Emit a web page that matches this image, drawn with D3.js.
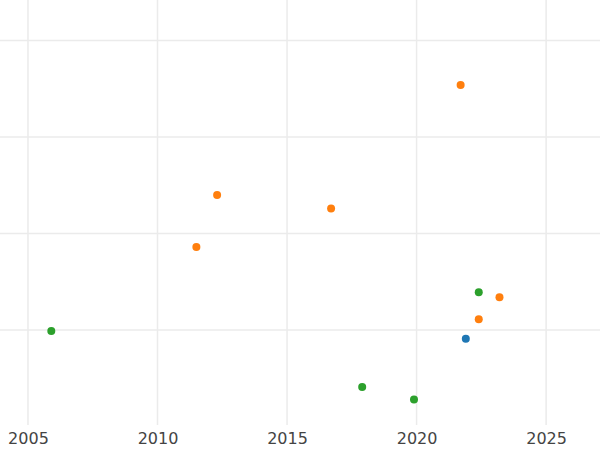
<!DOCTYPE html>
<html><head><meta charset="utf-8">
<script src="https://cdn.jsdelivr.net/npm/d3@7"></script>
<style>body{margin:0;background:#fff}</style>
</head><body>
<script>
// data
const years = [2005.9, 2011.5, 2012.3, 2016.7, 2021.7, 2022.4, 2023.2, 2022.4, 2021.9, 2017.9, 2019.9];
const values = [-0.01, 0.86, 1.4, 1.26, 2.54, 0.11, 0.34, 0.39, -0.09, -0.59, -0.72];
const groups = ["g", "o", "o", "o", "o", "o", "o", "g", "b", "g", "g"];
const xTicks = [2005, 2010, 2015, 2020, 2025];
const yTicks = [0, 1, 2, 3];

let width = 600, height = 450;
let plotBottom = 425;

let x = d3.scaleLinear().domain([2003.92, 2027.08]).range([0, width]);
let y = d3.scaleLinear().domain([-0.985, 3.42]).range([plotBottom, 0]);
let color = d3.scaleOrdinal().domain(["b", "o", "g"]).range(["#1f77b4", "#ff7f0e", "#2ca02c"]);

let svg = d3.select("body").append("svg")
    .attr("width", width).attr("height", height);

// grid
svg.append("g").selectAll("line").data(xTicks).join("line")
    .attr("x1", d => x(d)).attr("x2", d => x(d))
    .attr("y1", 0).attr("y2", plotBottom)
    .attr("stroke", "#ebebeb").attr("stroke-width", 1.5);
svg.append("g").selectAll("line").data(yTicks).join("line")
    .attr("x1", 0).attr("x2", width)
    .attr("y1", d => y(d)).attr("y2", d => y(d))
    .attr("stroke", "#ebebeb").attr("stroke-width", 1.5);

// x axis labels
let ax = svg.append("g")
    .attr("transform", "translate(0," + plotBottom + ")")
    .call(d3.axisBottom(x).tickValues(xTicks).tickFormat(d3.format("d")).tickSize(0).tickPadding(8));
ax.select(".domain").remove();
ax.selectAll("text").attr("font-family", "DejaVu Sans").attr("font-size", 16).attr("fill", "#444");

// points
svg.append("g").selectAll("circle").data(years).join("circle")
    .attr("cx", d => x(d))
    .attr("cy", (d, i) => y(values[i]))
    .attr("r", 4)
    .attr("fill", (d, i) => color(groups[i]));
</script>
</body></html>
